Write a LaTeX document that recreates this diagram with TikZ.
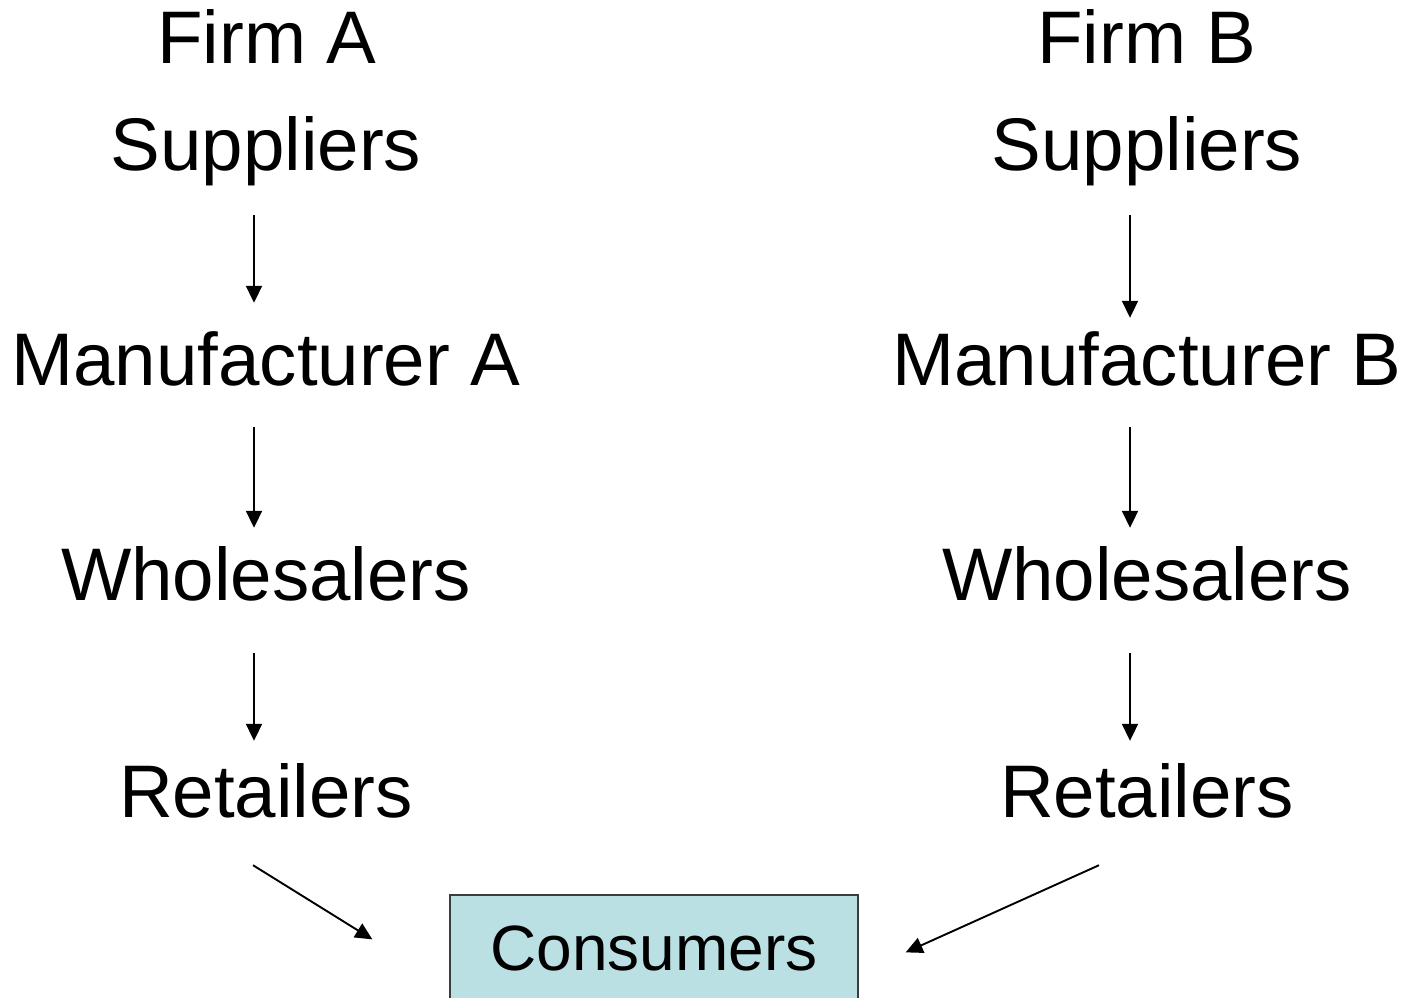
\documentclass[tikz,border=0pt]{standalone}
\usepackage{fontspec}
\setmainfont{Liberation Sans}
\usetikzlibrary{arrows.meta}
\definecolor{boxfill}{RGB}{186,224,227}
\definecolor{boxline}{RGB}{60,60,60}

\begin{document}
\begin{tikzpicture}[x=1pt,y=-1pt]
    \tikzset{%
      stage/.style={anchor=base, inner sep=0pt, text height=53pt,
        text depth=15pt, font=\fontsize{74.5}{89}\selectfont},
      flow/.style={line width=1.9pt, -{Triangle[length=17pt,width=16pt]}},
      sink/.style={stage, draw=boxline, line width=1.3pt, fill=boxfill,
        text height=75pt, text depth=40pt, minimum width=408pt,
        font=\fontsize{64}{77}\selectfont},
    }
    \useasboundingbox (0,0) rectangle (1410,997);

    % left chain
    \node[stage] (firmA) at (267,63) {Firm A};
    \node[stage] (supA) at (266,170) {Suppliers};
    \node[stage] (manA) at (266,385) {Manufacturer A};
    \node[stage] (whoA) at (266,600) {Wholesalers};
    \node[stage] (retA) at (266,817) {Retailers};

    % right chain
    \node[stage] (firmB) at (1147,63) {Firm B};
    \node[stage] (supB) at (1147,170) {Suppliers};
    \node[stage] (manB) at (1147,385) {Manufacturer B};
    \node[stage] (whoB) at (1147,600) {Wholesalers};
    \node[stage] (retB) at (1147,817) {Retailers};

    \node[sink] (cons) at (654,970) {Consumers};

    \draw [flow, shorten <=30pt, shorten >=29pt] ([xshift=-12pt]supA.south) -- ([xshift=-12pt]manA.north);
    \draw [flow, shorten <=27pt, shorten >=19pt] ([xshift=-12pt]manA.south) -- ([xshift=-12pt]whoA.north);
    \draw [flow, shorten <=38pt, shorten >=23pt] ([xshift=-12pt]whoA.south) -- ([xshift=-12pt]retA.north);

    \draw [flow, shorten <=30pt, shorten >=14pt] ([xshift=-17pt]supB.south) -- ([xshift=-17pt]manB.north);
    \draw [flow, shorten <=27pt, shorten >=19pt] ([xshift=-17pt]manB.south) -- ([xshift=-17pt]whoB.north);
    \draw [flow, shorten <=38pt, shorten >=23pt] ([xshift=-17pt]whoB.south) -- ([xshift=-17pt]retB.north);

    % both retailers feed the consumers
    \draw [flow] ([xshift=-13pt,yshift=-33pt]retA.south) -- ([xshift=-77pt,yshift=-45pt]cons.north west);
    \draw [flow] ([xshift=-48pt,yshift=-33pt]retB.south) -- ([xshift=47pt,yshift=-58pt]cons.north east);
\end{tikzpicture}
\end{document}
